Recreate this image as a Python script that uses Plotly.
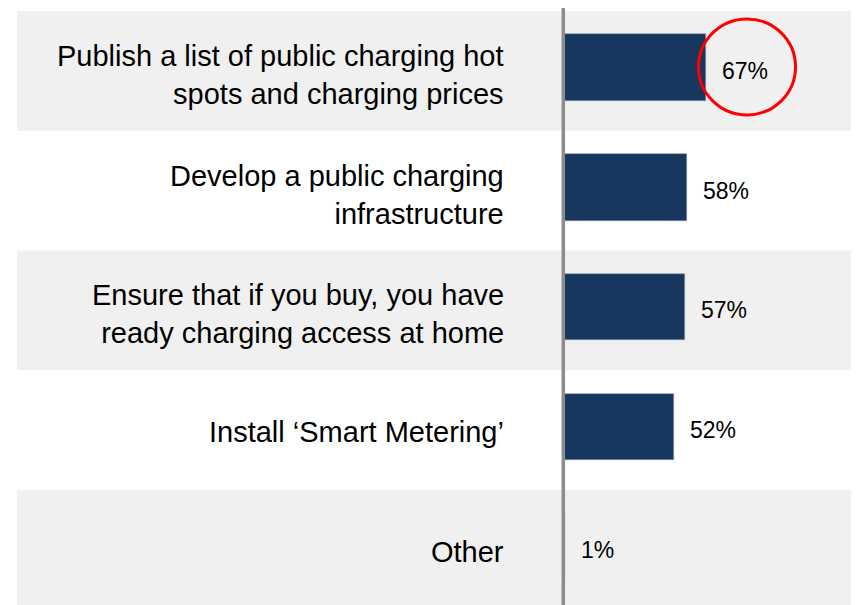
import plotly.graph_objects as go

categories = [
    "Publish a list of public charging hot<br>spots and charging prices",
    "Develop a public charging<br>infrastructure",
    "Ensure that if you buy, you have<br>ready charging access at home",
    "Install ‘Smart Metering’",
    "Other",
]
values = [67, 58, 57, 52, 1]
value_labels = ["67%", "58%", "57%", "52%", "1%"]
highlight_index = 0

BAR_COLOR = "#17375E"
BAND_COLOR = "#F0F0F0"
AXIS_COLOR = "#8C8C8C"
FONT = "Liberation Sans, Arial, sans-serif"

positions = list(range(len(categories)))

fig = go.Figure()
fig.add_trace(go.Bar(
    x=values,
    y=positions,
    orientation="h",
    width=0.555,
    offset=-0.305,
    marker=dict(color=BAR_COLOR, line=dict(color="#8A9BB3", width=0.6)),
    hoverinfo="skip",
    showlegend=False,
))

shapes = []
# alternating background bands
for i in positions:
    if i % 2 == 0:
        shapes.append(dict(type="rect", xref="paper", yref="y", x0=0, x1=1,
                           y0=i - 0.5, y1=i + 0.5, fillcolor=BAND_COLOR,
                           line=dict(width=0), layer="below"))
# vertical axis line at zero
shapes.append(dict(type="line", xref="x", yref="paper", x0=0, x1=0,
                   y0=0, y1=1.02, line=dict(color=AXIS_COLOR, width=3.5), layer="above"))
# red highlight circle around the top value
shapes.append(dict(type="circle", xref="x", yref="y",
                   xsizemode="pixel", ysizemode="pixel",
                   xanchor=values[highlight_index], yanchor=positions[highlight_index],
                   x0=-7.5, x1=89.5, y0=-44, y1=52,
                   line=dict(color="#FF0000", width=3), layer="above"))

annotations = []
for i, (cat, v, lab) in enumerate(zip(categories, values, value_labels)):
    multiline = "<br>" in cat
    annotations.append(dict(x=-27, y=i, xref="x", yref="y", text=cat,
                            xanchor="right", yanchor="middle", align="right",
                            showarrow=False, yshift=-4 if multiline else -2,
                            font=dict(family=FONT, size=29, color="#000000")))
    annotations.append(dict(x=v, y=i, xref="x", yref="y", text=lab,
                            xanchor="left", yanchor="middle", align="left",
                            showarrow=False, xshift=14,
                            font=dict(family=FONT, size=23, color="#000000")))

fig.update_layout(
    width=859, height=605,
    margin=dict(l=9, r=10, t=3, b=0),
    paper_bgcolor="#FFFFFF",
    plot_bgcolor="#FFFFFF",
    shapes=shapes,
    annotations=annotations,
    xaxis=dict(range=[-256.5, 137.9], visible=False, fixedrange=True),
    yaxis=dict(range=[4.527, -0.5], visible=False, fixedrange=True),
    bargap=0,
)

fig.write_html("out.html")
